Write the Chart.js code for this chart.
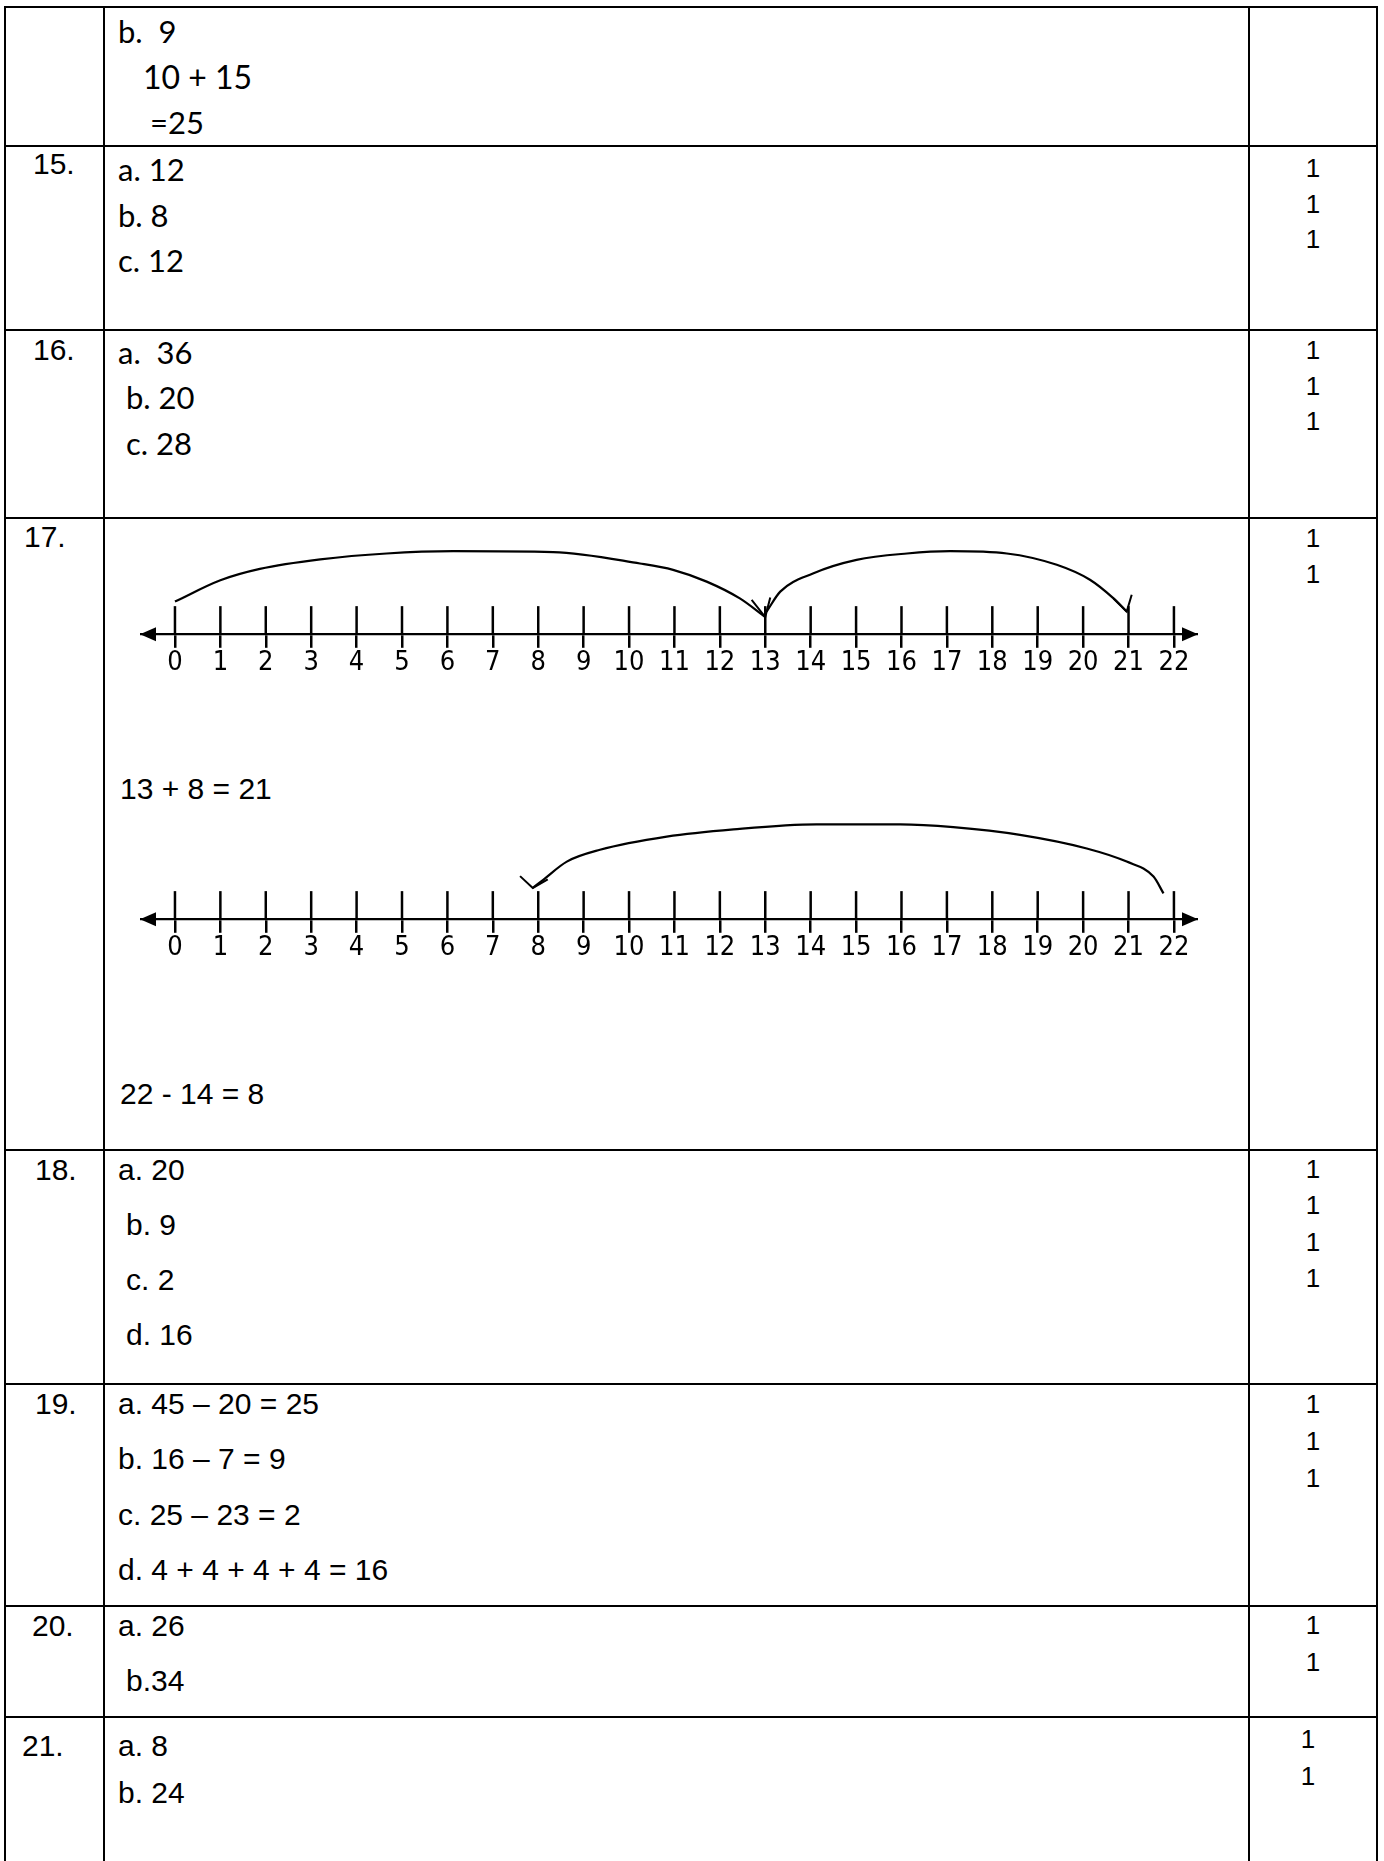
<!DOCTYPE html>
<html>
<head>
<meta charset="utf-8">
<script src="https://cdn.jsdelivr.net/npm/chart.js@4.4.1/dist/chart.umd.min.js"></script>
<style>
  body { margin: 0; background: #fff; }
  #page { position: relative; width: 1384px; height: 1861px; overflow: hidden; background: #fff; }
  .h { position: absolute; left: 4px; width: 1374px; height: 2px; background: #000; }
  .v { position: absolute; top: 6px; width: 2px; height: 1855px; background: #000; }
  .t { position: absolute; white-space: pre; line-height: 1; color: #000; }
  .arial { font-family: 'Liberation Sans', Arial, sans-serif; font-size: 30px; }
  .lato { font-family: Lato, sans-serif; font-size: 31px; }
  .mark { font-family: 'Liberation Sans', Arial, sans-serif; font-size: 26px; width: 128px; text-align: center; left: 1249px; }
  canvas { position: absolute; }
</style>
</head>
<body>
<div id="page">
  <!-- table rules -->
  <div class="h" style="top:6px"></div>
  <div class="h" style="top:145px"></div>
  <div class="h" style="top:329px"></div>
  <div class="h" style="top:517px"></div>
  <div class="h" style="top:1149px"></div>
  <div class="h" style="top:1383px"></div>
  <div class="h" style="top:1605px"></div>
  <div class="h" style="top:1716px"></div>
  <div class="v" style="left:4px"></div>
  <div class="v" style="left:103px"></div>
  <div class="v" style="left:1248px"></div>
  <div class="v" style="left:1376px"></div>

  <!-- row 14 (suite) -->
  <div class="t lato" style="left:118px;top:16px">b.  9</div>
  <div class="t lato" style="left:143px;top:61px;font-size:32px">10 + 15</div>
  <div class="t lato" style="left:150px;top:107px">=25</div>

  <!-- 15 -->
  <div class="t arial" style="left:33px;top:149px">15.</div>
  <div class="t lato" style="left:118px;top:154px">a. 12</div>
  <div class="t lato" style="left:118px;top:200px">b. 8</div>
  <div class="t lato" style="left:118px;top:245px">c. 12</div>
  <div class="t mark" style="top:155px">1</div>
  <div class="t mark" style="top:191px">1</div>
  <div class="t mark" style="top:226px">1</div>

  <!-- 16 -->
  <div class="t arial" style="left:33px;top:335px">16.</div>
  <div class="t lato" style="left:118px;top:337px">a.  36</div>
  <div class="t lato" style="left:126px;top:382px">b. 20</div>
  <div class="t lato" style="left:126px;top:428px">c. 28</div>
  <div class="t mark" style="top:337px">1</div>
  <div class="t mark" style="top:373px">1</div>
  <div class="t mark" style="top:408px">1</div>

  <!-- 17 -->
  <div class="t arial" style="left:24px;top:522px">17.</div>
  <div class="t mark" style="top:525px">1</div>
  <div class="t mark" style="top:561px">1</div>
  <canvas id="lineA" width="1058" height="160" style="left:140px;top:530px"></canvas>
  <div class="t arial" style="left:120px;top:774px">13 + 8 = 21</div>
  <canvas id="lineB" width="1058" height="180" style="left:140px;top:790px"></canvas>
  <div class="t arial" style="left:120px;top:1079px">22 - 14 = 8</div>

  <!-- 18 -->
  <div class="t arial" style="left:35px;top:1155px">18.</div>
  <div class="t arial" style="left:118px;top:1155px">a. 20</div>
  <div class="t arial" style="left:126px;top:1210px">b. 9</div>
  <div class="t arial" style="left:126px;top:1265px">c. 2</div>
  <div class="t arial" style="left:126px;top:1320px">d. 16</div>
  <div class="t mark" style="top:1156px">1</div>
  <div class="t mark" style="top:1192px">1</div>
  <div class="t mark" style="top:1229px">1</div>
  <div class="t mark" style="top:1265px">1</div>

  <!-- 19 -->
  <div class="t arial" style="left:35px;top:1389px">19.</div>
  <div class="t arial" style="left:118px;top:1389px">a. 45 – 20 = 25</div>
  <div class="t arial" style="left:118px;top:1444px">b. 16 – 7 = 9</div>
  <div class="t arial" style="left:118px;top:1500px">c. 25 – 23 = 2</div>
  <div class="t arial" style="left:118px;top:1555px">d. 4 + 4 + 4 + 4 = 16</div>
  <div class="t mark" style="top:1391px">1</div>
  <div class="t mark" style="top:1428px">1</div>
  <div class="t mark" style="top:1465px">1</div>

  <!-- 20 -->
  <div class="t arial" style="left:32px;top:1611px">20.</div>
  <div class="t arial" style="left:118px;top:1611px">a. 26</div>
  <div class="t arial" style="left:126px;top:1666px">b.34</div>
  <div class="t mark" style="top:1612px">1</div>
  <div class="t mark" style="top:1649px">1</div>

  <!-- 21 -->
  <div class="t arial" style="left:22px;top:1731px">21.</div>
  <div class="t arial" style="left:118px;top:1731px">a. 8</div>
  <div class="t arial" style="left:118px;top:1778px">b. 24</div>
  <div class="t mark" style="top:1726px;left:1244px">1</div>
  <div class="t mark" style="top:1763px;left:1244px">1</div>
</div>

<script>
// number line values (tick marks 0..22), arrow tips at both ends
const tickValues = [0, 1, 2, 3, 4, 5, 6, 7, 8, 9, 10, 11, 12, 13, 14, 15, 16, 17, 18, 19, 20, 21, 22];
const axisMin = -0.77;
const axisMax = 22.53;
const tickUp = 0.62;

// jumps: [value on the line, height above the line]
// 13 + 8 = 21 : 0 -> 13, then 13 -> 21
const hopTo13 = [[0, 0.72], [1.0, 1.19], [1.87, 1.44], [3.2, 1.65], [4.66, 1.78], [6.13, 1.83],
                 [8.33, 1.81], [10.24, 1.56], [10.97, 1.42], [11.71, 1.16], [12.44, 0.79], [13.0, 0.38]];
const headAt13 = [[12.7, 0.76], [13.0, 0.38], [13.11, 0.81]];
const hopTo21 = [[13.03, 0.5], [13.33, 0.94], [14.05, 1.34], [15.01, 1.64], [16.12, 1.78], [17.07, 1.83],
                 [18.32, 1.78], [19.42, 1.53], [20.15, 1.2], [20.67, 0.79], [20.96, 0.5]];
const headAt21 = [[20.67, 0.79], [20.96, 0.5], [21.07, 0.87]];

// 22 - 14 = 8 : back jump from 22 to 8
const hopBackTo8 = [[7.88, 0.69], [8.11, 0.87], [8.63, 1.27], [9.36, 1.53], [10.83, 1.82], [12.3, 1.98],
                    [14.13, 2.09], [15.97, 2.09], [17.14, 2.03], [18.61, 1.86], [20.08, 1.56], [20.96, 1.27],
                    [21.55, 0.94], [21.77, 0.57]];
const headAt8 = [[7.6, 0.95], [7.88, 0.69], [8.21, 0.88]];

const numberLine = {
    id: 'numberLine',
    afterDraw(chart) {
        const { ctx, chartArea, scales: { x, y } } = chart;
        const y0 = y.getPixelForValue(0);
        ctx.save();
        ctx.strokeStyle = '#000';
        ctx.fillStyle = '#000';
        ctx.lineWidth = 2.5;
        // upper half of each tick mark (lower half comes from the axis itself)
        x.ticks.forEach(t => {
            const px = x.getPixelForValue(t.value);
            ctx.beginPath();
            ctx.moveTo(px, y0);
            ctx.lineTo(px, y.getPixelForValue(tickUp));
            ctx.stroke();
        });
        // arrow heads at both ends
        [[chartArea.left, 16], [chartArea.right, -16]].forEach(([tip, len]) => {
            ctx.beginPath();
            ctx.moveTo(tip, y0);
            ctx.lineTo(tip + len, y0 - 7);
            ctx.lineTo(tip + len, y0 + 7);
            ctx.closePath();
            ctx.fill();
        });
        ctx.restore();
    }
};

function toPoints(arr) {
    return arr.map(p => ({ x: p[0], y: p[1] }));
}

function drawNumberLine(id, curves, heads, yMin, yMax) {
    const datasets = [];
    curves.forEach(c => datasets.push({
        data: toPoints(c), showLine: true, borderColor: '#000', borderWidth: 2.2,
        pointRadius: 0, cubicInterpolationMode: 'monotone', fill: false
    }));
    heads.forEach(h => datasets.push({
        data: toPoints(h), showLine: true, borderColor: '#000', borderWidth: 2,
        pointRadius: 0, tension: 0, fill: false
    }));

    new Chart(document.getElementById(id), {
        type: 'scatter',
        data: { datasets: datasets },
        options: {
            responsive: false,
            animation: false,
            devicePixelRatio: 1,
            layout: { padding: 0 },
            plugins: { legend: { display: false }, tooltip: { enabled: false } },
            scales: {
                x: {
                    type: 'linear',
                    min: axisMin,
                    max: axisMax,
                    position: { y: 0 },
                    afterBuildTicks: axis => { axis.ticks = tickValues.map(v => ({ value: v })); },
                    grid: { drawOnChartArea: false, drawTicks: true, tickLength: 12.5, color: '#000', lineWidth: 2.5 },
                    border: { display: true, color: '#000', width: 2.3 },
                    ticks: {
                        color: '#000', padding: 0, autoSkip: false, maxRotation: 0,
                        callback: v => String(v),
                        font: { family: "'Liberation Sans Narrow', 'DejaVu Sans Condensed', 'Noto Sans', sans-serif", size: 27 }
                    }
                },
                y: { type: 'linear', display: false, min: yMin, max: yMax }
            }
        },
        plugins: [numberLine]
    });
}

drawNumberLine('lineA', [hopTo13, hopTo21], [headAt13, headAt21], -1.227, 2.297);
drawNumberLine('lineB', [hopBackTo8], [headAt8], -1.117, 2.847);
</script>
</body>
</html>
